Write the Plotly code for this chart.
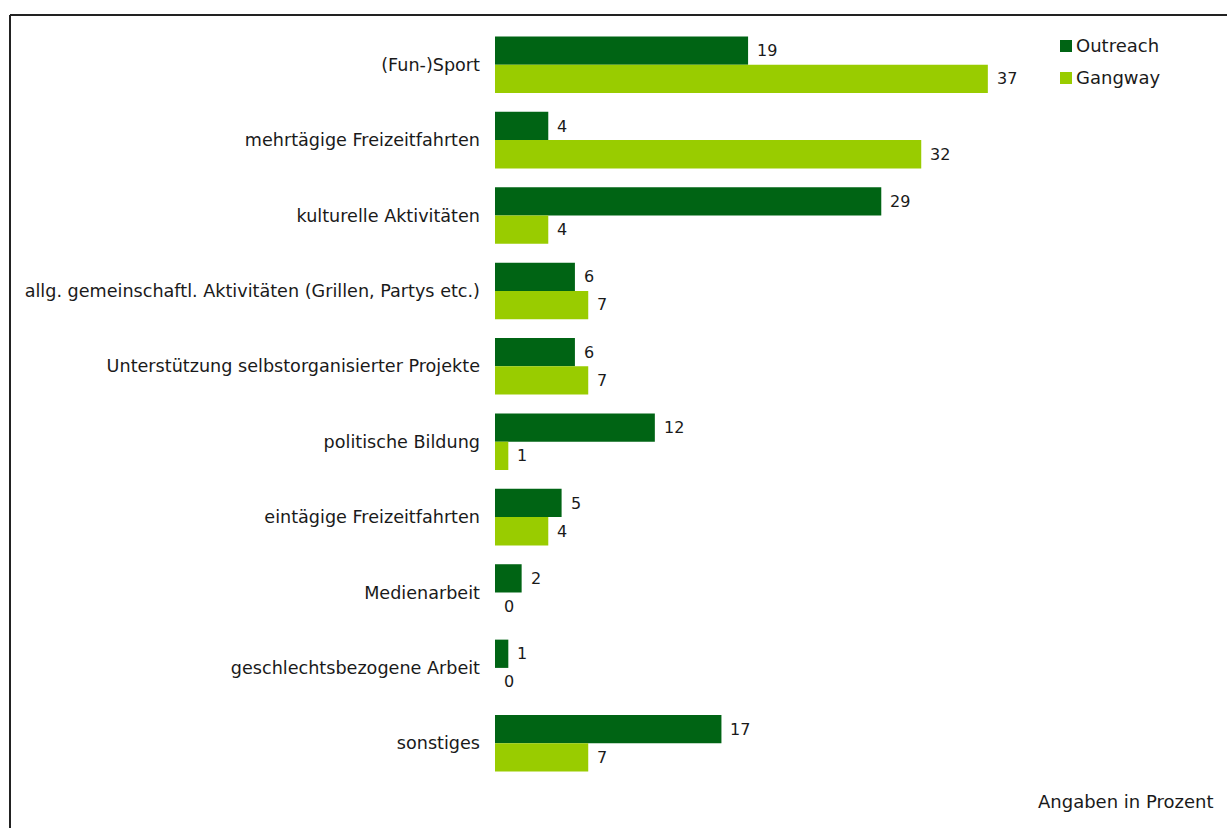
import plotly.graph_objects as go

categories = [
    "(Fun-)Sport",
    "mehrtägige Freizeitfahrten",
    "kulturelle Aktivitäten",
    "allg. gemeinschaftl. Aktivitäten (Grillen, Partys etc.)",
    "Unterstützung selbstorganisierter Projekte",
    "politische Bildung",
    "eintägige Freizeitfahrten",
    "Medienarbeit",
    "geschlechtsbezogene Arbeit",
    "sonstiges",
]
series_names = ["Outreach", "Gangway"]
outreach = [19, 4, 29, 6, 6, 12, 5, 2, 1, 17]
gangway = [37, 32, 4, 7, 7, 1, 4, 0, 0, 7]

DARK = "#006414"
LIGHT = "#99CC00"
TEXT = "#1a1a1a"
FONT = "DejaVu Sans"

W, H = 1227, 828
ML, MR, MT, MB = 495, 66, 27, 47
XMAX = 50

pw = W - ML - MR
ph = H - MT - MB


def px_to_paper_x(px):
    return (px - ML) / pw


def px_to_paper_y(py):
    return (H - MB - py) / ph


fig = go.Figure()
for name, vals, col in zip(series_names, (outreach, gangway), (DARK, LIGHT)):
    fig.add_trace(go.Bar(y=categories, x=vals, orientation="h", name=name,
                         marker=dict(color=col, line=dict(width=0)), showlegend=False))

# value labels to the right of each bar
annotations = []
for cat, a, b in zip(categories, outreach, gangway):
    for val, shift in ((a, 14), (b, -14)):
        annotations.append(dict(
            x=val, y=cat, xref="x", yref="y", text=str(val), showarrow=False,
            xanchor="left", yanchor="middle", xshift=7, yshift=shift,
            font=dict(family=FONT, size=16, color=TEXT)))

# legend: small squares followed by the series names
shapes = []
for i, (name, col) in enumerate(zip(series_names, (DARK, LIGHT))):
    cy = 46 + 32 * i
    shapes.append(dict(type="rect", xref="paper", yref="paper",
                       x0=px_to_paper_x(1060), x1=px_to_paper_x(1072),
                       y0=px_to_paper_y(cy + 6), y1=px_to_paper_y(cy - 6),
                       fillcolor=col, line=dict(width=0)))
    annotations.append(dict(x=px_to_paper_x(1074), y=px_to_paper_y(cy), xref="paper", yref="paper",
                            text=name, showarrow=False, xanchor="left", yanchor="middle",
                            font=dict(family=FONT, size=18, color=TEXT)))

annotations.append(dict(
    x=px_to_paper_x(1215), y=px_to_paper_y(802), xref="paper", yref="paper",
    text="Angaben in Prozent", showarrow=False, xanchor="right", yanchor="middle",
    font=dict(family=FONT, size=18, color=TEXT)))

# frame lines (left and top)
shapes += [
    dict(type="line", xref="paper", yref="paper",
         x0=px_to_paper_x(10), x1=px_to_paper_x(10),
         y0=px_to_paper_y(15), y1=px_to_paper_y(H + 5),
         line=dict(color="#222222", width=2)),
    dict(type="line", xref="paper", yref="paper",
         x0=px_to_paper_x(10), x1=px_to_paper_x(W + 5),
         y0=px_to_paper_y(15), y1=px_to_paper_y(15),
         line=dict(color="#222222", width=2)),
]

fig.update_layout(
    width=W, height=H,
    margin=dict(l=ML, r=MR, t=MT, b=MB, pad=0),
    paper_bgcolor="white", plot_bgcolor="white",
    barmode="group", bargap=0.25, bargroupgap=0,
    font=dict(family=FONT, size=17.6, color=TEXT),
    showlegend=False,
    xaxis=dict(range=[0, XMAX], visible=False, showgrid=False, zeroline=False, fixedrange=True),
    yaxis=dict(autorange="reversed", showgrid=False, zeroline=False, showline=False,
               ticks="", ticklabelstandoff=14, tickfont=dict(family=FONT, size=17.6, color=TEXT)),
    annotations=annotations,
    shapes=shapes,
)

fig.write_html("out.html")
